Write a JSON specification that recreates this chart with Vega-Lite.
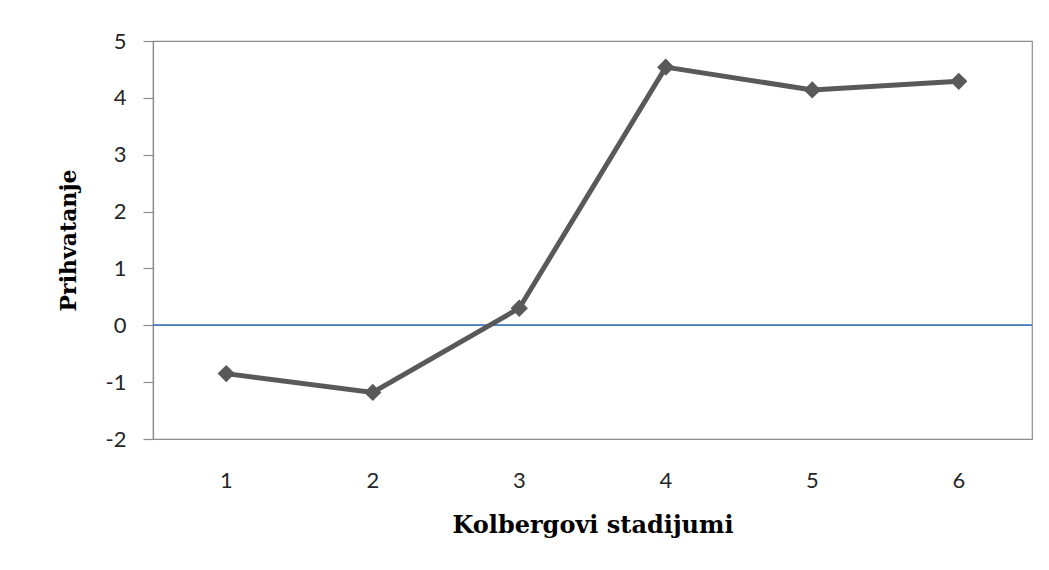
{
  "$schema": "https://vega.github.io/schema/vega-lite/v6.json",
  "autosize": {"type": "none"},
  "width": 879,
  "height": 398,
  "padding": {"left": 153, "top": 41, "right": 17, "bottom": 131},
  "background": "white",
  "config": {
    "view": {"stroke": "#8c8c8c", "strokeWidth": 1.2},
    "axis": {"labelFont": "Lato", "labelFontSize": 22, "labelColor": "#262626", "titleFont": "DejaVu Serif", "titleFontWeight": "bold", "titleFontSize": 24, "titleColor": "#000000", "grid": false, "domainColor": "#8c8c8c", "tickColor": "#8c8c8c", "domainWidth": 1.2, "tickWidth": 1.2}
  },
  "data": {"values": [
    {"stadijum": "1", "prihvatanje": -0.85},
    {"stadijum": "2", "prihvatanje": -1.18},
    {"stadijum": "3", "prihvatanje": 0.30},
    {"stadijum": "4", "prihvatanje": 4.54},
    {"stadijum": "5", "prihvatanje": 4.14},
    {"stadijum": "6", "prihvatanje": 4.29}
  ]},
  "layer": [
    {
      "mark": {"type": "rule", "color": "#4a7ebb", "strokeWidth": 1.2},
      "encoding": {"y": {"datum": 0, "type": "quantitative"}}
    },
    {
      "mark": {"type": "line", "color": "#595959", "strokeWidth": 5},
      "encoding": {
        "x": {"field": "stadijum", "type": "ordinal", "scale": {"type": "band", "paddingInner": 0, "paddingOuter": 0},
          "axis": {"title": "Kolbergovi stadijumi", "labelAngle": 0, "ticks": false, "labelPadding": 31, "titlePadding": 22}},
        "y": {"field": "prihvatanje", "type": "quantitative", "scale": {"domain": [-2, 5], "nice": false, "zero": false},
          "axis": {"title": "Prihvatanje", "titleFontSize": 22, "values": [-2, -1, 0, 1, 2, 3, 4, 5], "labelExpr": "'' + datum.value", "tickSize": 10, "labelPadding": 17, "titlePadding": 25}}
      }
    },
    {
      "mark": {"type": "point", "shape": "diamond", "filled": true, "size": 300, "color": "#595959", "opacity": 1},
      "encoding": {
        "x": {"field": "stadijum", "type": "ordinal"},
        "y": {"field": "prihvatanje", "type": "quantitative"}
      }
    }
  ]
}
